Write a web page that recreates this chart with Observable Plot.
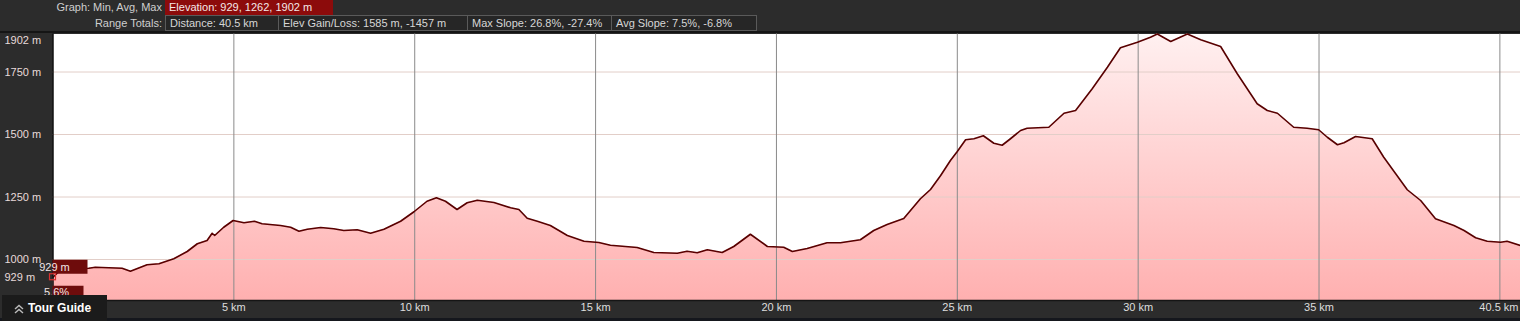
<!DOCTYPE html>
<html><head><meta charset="utf-8">
<script src="https://cdn.jsdelivr.net/npm/d3@7"></script>
<script src="https://cdn.jsdelivr.net/npm/@observablehq/plot@0.6"></script>
<style>
html,body{margin:0;padding:0;background:#2c2c2c;width:1520px;height:321px;overflow:hidden;font-family:"Liberation Sans",Arial,sans-serif;}
#wrap{position:relative;width:1520px;height:321px;}
#header{position:relative;height:31px;border-bottom:2px solid #151515;font-size:11px;color:#cfcfcf;}
.lab{position:absolute;left:0;width:162px;text-align:right;height:15px;line-height:15px;}
.box{position:absolute;height:14px;line-height:14px;padding-left:4px;box-sizing:border-box;white-space:nowrap;}
.stat{border:1px solid #5a5a5a;background:#262626;color:#d6d6d6;height:16px;line-height:14px;}
#chart svg{display:block;}
#tour{position:absolute;left:2px;top:295px;width:105px;height:26px;background:#1b1b1b;color:#fff;font-weight:bold;font-size:12px;line-height:26px;box-sizing:border-box;padding-left:12px;}
#tour svg{vertical-align:middle;margin-right:4px;}
#bottomstrip{position:absolute;left:0;top:318px;width:1520px;height:3px;background:#15171d;}
</style></head>
<body>
<div id="wrap">
  <div id="header">
    <div class="lab" style="top:0">Graph: Min, Avg, Max</div>
    <div class="box" style="left:165px;top:0;width:168px;height:15px;line-height:15px;background:#8c0b0b;color:#f4e8e8;">Elevation: 929, 1262, 1902 m</div>
    <div class="lab" style="top:16px">Range Totals:</div>
    <div class="box stat" style="left:165px;top:15px;width:114px;">Distance: 40.5 km</div>
    <div class="box stat" style="left:278px;top:15px;width:190px;">Elev Gain/Loss: 1585 m, -1457 m</div>
    <div class="box stat" style="left:467px;top:15px;width:145px;">Max Slope: 26.8%, -27.4%</div>
    <div class="box stat" style="left:611px;top:15px;width:146px;">Avg Slope: 7.5%, -6.8%</div>
  </div>
  <div id="chart"></div>
  <div id="bottomstrip"></div>
  <div id="tour"><svg width="10" height="10" viewBox="0 0 10 10"><path d="M1 5 L5 1.5 L9 5 M1 9 L5 5.5 L9 9" stroke="#bbb" stroke-width="1.4" fill="none"/></svg>Tour Guide</div>
</div>
<script>
// distance along track (km)
const kmValues = [0, 0.15, 0.4, 0.99, 1.17, 1.91, 2.14, 2.6, 2.93, 3.34, 3.71, 3.99, 4.26, 4.40, 4.47, 4.72, 4.98, 5.28, 5.57, 5.78, 6.29, 6.57, 6.80, 7.03, 7.40, 7.76, 8.04, 8.41, 8.78, 9.15, 9.61, 9.98, 10.34, 10.60, 10.85, 11.17, 11.45, 11.73, 12.19, 12.65, 12.88, 13.11, 13.39, 13.75, 14.22, 14.68, 15.09, 15.41, 16.15, 16.61, 17.26, 17.53, 17.81, 18.09, 18.50, 18.82, 19.28, 19.75, 20.20, 20.44, 20.85, 21.40, 21.77, 22.32, 22.69, 23.06, 23.52, 23.98, 24.26, 24.54, 24.81, 25.00, 25.23, 25.46, 25.72, 26.01, 26.24, 26.47, 26.75, 26.93, 27.53, 27.95, 28.27, 28.73, 29.15, 29.51, 29.98, 30.34, 30.53, 30.90, 31.36, 31.73, 32.28, 32.74, 33.29, 33.57, 33.85, 34.30, 34.67, 34.99, 35.23, 35.51, 35.69, 36.01, 36.47, 36.79, 37.12, 37.44, 37.81, 38.22, 38.73, 39.01, 39.33, 39.65, 40.02, 40.20, 40.57];
// elevation (m)
const elevValues = [929, 950, 962, 965, 969, 965, 953, 979, 983, 1003, 1032, 1063, 1076, 1105, 1096, 1129, 1156, 1147, 1153, 1143, 1136, 1129, 1113, 1121, 1128, 1123, 1116, 1119, 1105, 1121, 1153, 1191, 1233, 1247, 1233, 1200, 1227, 1237, 1228, 1207, 1200, 1165, 1153, 1136, 1096, 1073, 1068, 1057, 1048, 1028, 1025, 1033, 1027, 1039, 1028, 1052, 1101, 1052, 1049, 1032, 1044, 1067, 1067, 1079, 1116, 1140, 1164, 1243, 1280, 1336, 1396, 1432, 1479, 1483, 1495, 1465, 1457, 1483, 1516, 1525, 1529, 1585, 1596, 1683, 1769, 1847, 1869, 1889, 1902, 1872, 1902, 1879, 1852, 1743, 1623, 1596, 1585, 1529, 1525, 1519, 1489, 1459, 1467, 1492, 1483, 1409, 1343, 1279, 1236, 1163, 1136, 1116, 1087, 1073, 1069, 1073, 1056];
const xTicks = [5, 10, 15, 20, 25, 30, 35];
const xGrid = [5, 10, 15, 20, 25, 30, 35, 40];
const yGrid = [1000, 1250, 1500, 1750];
const yLabels = [929, 1000, 1250, 1500, 1750];
const yMaxLabel = 1902;
const totalKm = 40.57;
const totalLabel = "40.5 km";
const startLabel = "929 m";
const startSlope = "5.6%";
const yDomain = [836, 1902];

const profile = kmValues.map((k, i) => ({km: k, elev: elevValues[i]}));

const plot = Plot.plot({
  width: 1520, height: 288,
  marginLeft: 52.5, marginRight: 0, marginTop: 0.5, marginBottom: 21,
  x: {domain: [0, totalKm], axis: null},
  y: {domain: yDomain, axis: null},
  style: {background: "transparent", fontFamily: "'Liberation Sans', Arial, sans-serif", fontSize: "11px"},
  marks: [
    Plot.frame({fill: "#ffffff", stroke: null}),
    Plot.areaY(profile, {x: "km", y1: yDomain[0], y2: "elev", fill: "url(#elevGrad)"}),
    Plot.ruleY(yGrid, {stroke: "#e2cec8", strokeWidth: 1}),
    Plot.ruleX(xGrid, {stroke: "#8a8a8a", strokeWidth: 1}),
    Plot.line(profile, {x: "km", y: "elev", stroke: "#580000", strokeWidth: 1.6}),
    Plot.ruleX([0], {stroke: "#111", strokeWidth: 1.5}),
    Plot.ruleY([yDomain[0]], {stroke: "#151515", strokeWidth: 1.5}),
    Plot.text(yLabels, {y: d => d, text: d => `${d} m`, frameAnchor: "left", dx: -48.5, textAnchor: "start", fill: "#e8dada"}),
    Plot.text([yMaxLabel], {y: d => d, text: d => `${d} m`, frameAnchor: "left", dx: -48.5, dy: 6.5, textAnchor: "start", fill: "#e8dada"}),
    Plot.text(xTicks, {x: d => d, text: d => `${d} km`, frameAnchor: "bottom", dy: 10, fill: "#dedede"}),
    Plot.text([totalKm], {x: d => d, text: () => totalLabel, frameAnchor: "bottom", dy: 10, dx: -2, textAnchor: "end", fill: "#dedede"})
  ]
});

plot.insertAdjacentHTML("afterbegin",
  `<defs><linearGradient id="elevGrad" x1="0" y1="0" x2="0" y2="1">
     <stop offset="0" stop-color="#fff0f0"/>
     <stop offset="1" stop-color="#ffb0b0"/>
   </linearGradient></defs>`);

// start-point annotation, placed through the plot's scales
const sx = plot.scale("x").apply(kmValues[0]);
const sy = plot.scale("y").apply(elevValues[0]);
const g = d3.select(plot).append("g").attr("font-size", 11);
g.append("rect").attr("x", sx).attr("y", sy - 17).attr("width", 35).attr("height", 14).attr("fill", "#6e0c0c");
g.append("text").attr("x", sx + 2).attr("y", sy - 6).attr("fill", "#f2e6e6").text(startLabel);
g.append("rect").attr("x", sx).attr("y", sy + 9).attr("width", 31).attr("height", 13).attr("fill", "#6e0c0c");
g.append("text").attr("x", sx + 4).attr("y", sy + 19.5).attr("fill", "#f2e6e6").text(startSlope);
g.append("rect").attr("x", sx - 3).attr("y", sy - 3).attr("width", 6).attr("height", 6).attr("fill", "none").attr("stroke", "#d83030").attr("stroke-width", 1.2);

document.getElementById("chart").appendChild(plot);
</script>
</body></html>
